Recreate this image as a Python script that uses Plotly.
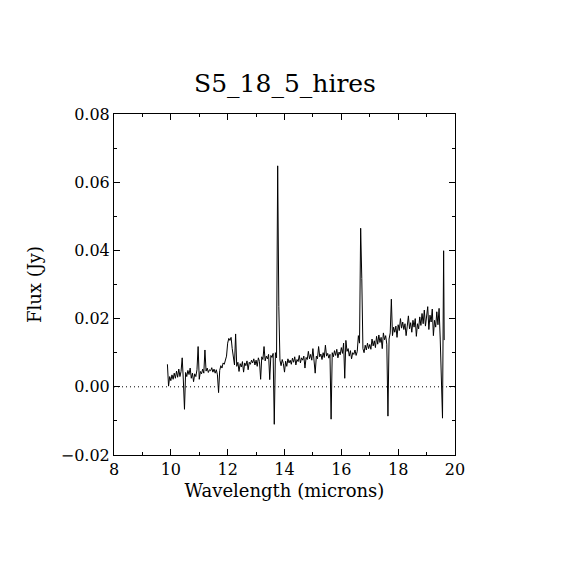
import plotly.graph_objects as go

# wavelength grid (microns) and flux (Jy)
wave_a = [9.88, 9.92, 9.96, 10.00, 10.04, 10.08, 10.12, 10.16, 10.20, 10.24,
          10.28, 10.32, 10.36, 10.40, 10.44, 10.48, 10.52, 10.56, 10.60, 10.64,
          10.68, 10.72, 10.76, 10.80, 10.84]
flux_a = [0.0066, 0.0002, 0.0030, 0.0018, 0.0035, 0.0022, 0.0040, 0.0025, 0.0046, 0.0028,
          0.0052, 0.0030, 0.0045, 0.0085, 0.0020, -0.0066, 0.0042, 0.0030, 0.0048, 0.0036,
          0.0055, 0.0025, 0.0040, 0.0015, 0.0038]

wave_b = [10.88, 10.92, 10.96, 11.00, 11.04, 11.08, 11.12, 11.16, 11.20, 11.24,
          11.28, 11.32, 11.36, 11.40, 11.44, 11.48, 11.52, 11.56, 11.60, 11.64,
          11.68, 11.72, 11.76, 11.80, 11.84]
flux_b = [0.0030, 0.0050, 0.0118, 0.0022, 0.0045, 0.0038, 0.0052, 0.0040, 0.0108, 0.0046,
          0.0055, 0.0042, 0.0050, 0.0047, 0.0056, 0.0043, 0.0052, 0.0040, 0.0050, 0.0035,
          -0.0017, 0.0048, 0.0062, 0.0055, 0.0070]

wave_c = [11.88, 11.92, 11.96, 12.00, 12.04, 12.08, 12.12, 12.16, 12.20, 12.24,
          12.28, 12.32, 12.36, 12.40, 12.44, 12.48, 12.52, 12.56, 12.60, 12.64,
          12.68, 12.72, 12.76, 12.80, 12.84]
flux_c = [0.0066, 0.0078, 0.0090, 0.0128, 0.0142, 0.0136, 0.0145, 0.0112, 0.0085, 0.0064,
          0.0155, 0.0060, 0.0072, 0.0045, 0.0068, 0.0058, 0.0074, 0.0043, 0.0070, 0.0062,
          0.0076, 0.0050, 0.0072, 0.0066, 0.0078]

wave_d = [12.88, 12.92, 12.96, 13.00, 13.04, 13.08, 13.12, 13.16, 13.20, 13.24,
          13.28, 13.32, 13.36, 13.40, 13.44, 13.48, 13.52, 13.56, 13.60, 13.64,
          13.68, 13.72, 13.76, 13.80, 13.84]
flux_d = [0.0070, 0.0082, 0.0064, 0.0078, 0.0060, 0.0085, 0.0074, 0.0022, 0.0088, 0.0080,
          0.0118, 0.0076, 0.0090, 0.0082, 0.0095, 0.0021, 0.0092, 0.0086, 0.0098, -0.0110,
          0.0100, 0.0085, 0.0648, 0.0235, 0.0078]

wave_e = [13.88, 13.92, 13.96, 14.00, 14.04, 14.08, 14.12, 14.16, 14.20, 14.24,
          14.28, 14.32, 14.36, 14.40, 14.44, 14.48, 14.52, 14.56, 14.60, 14.64,
          14.68, 14.72, 14.76, 14.80, 14.84]
flux_e = [0.0062, 0.0080, 0.0068, 0.0043, 0.0075, 0.0060, 0.0082, 0.0070, 0.0078, 0.0066,
          0.0084, 0.0072, 0.0088, 0.0064, 0.0080, 0.0074, 0.0092, 0.0070, 0.0085, 0.0078,
          0.0090, 0.0055, 0.0086, 0.0080, 0.0104]

wave_f = [14.88, 14.92, 14.96, 15.00, 15.04, 15.08, 15.12, 15.16, 15.20, 15.24,
          15.28, 15.32, 15.36, 15.40, 15.44, 15.48, 15.52, 15.56, 15.60, 15.64,
          15.68, 15.72, 15.76, 15.80, 15.84]
flux_f = [0.0082, 0.0095, 0.0078, 0.0112, 0.0085, 0.0040, 0.0090, 0.0082, 0.0118, 0.0088,
          0.0096, 0.0080, 0.0100, 0.0086, 0.0122, 0.0090, 0.0098, 0.0084, 0.0095, -0.0095,
          0.0100, 0.0088, 0.0106, 0.0092, 0.0110]

wave_g = [15.88, 15.92, 15.96, 16.00, 16.04, 16.08, 16.12, 16.16, 16.20, 16.24,
          16.28, 16.32, 16.36, 16.40, 16.44, 16.48, 16.52, 16.56, 16.60, 16.64,
          16.68, 16.72, 16.76, 16.80, 16.84]
flux_g = [0.0085, 0.0102, 0.0094, 0.0115, 0.0098, 0.0128, 0.0025, 0.0136, 0.0104, 0.0112,
          0.0090, 0.0106, 0.0082, 0.0100, 0.0095, 0.0108, 0.0092, 0.0104, 0.0150, 0.0128,
          0.0465, 0.0318, 0.0112, 0.0100, 0.0122]

wave_h = [16.88, 16.92, 16.96, 17.00, 17.04, 17.08, 17.12, 17.16, 17.20, 17.24,
          17.28, 17.32, 17.36, 17.40, 17.44, 17.48, 17.52, 17.56, 17.60, 17.64,
          17.68, 17.72, 17.76, 17.80, 17.84]
flux_h = [0.0108, 0.0128, 0.0112, 0.0124, 0.0110, 0.0140, 0.0120, 0.0135, 0.0115, 0.0148,
          0.0125, 0.0152, 0.0130, 0.0145, 0.0112, 0.0158, 0.0138, 0.0150, 0.0125, -0.0086,
          0.0140, 0.0158, 0.0257, 0.0150, 0.0175]

wave_i = [17.88, 17.92, 17.96, 18.00, 18.04, 18.08, 18.12, 18.16, 18.20, 18.24,
          18.28, 18.32, 18.36, 18.40, 18.44, 18.48, 18.52, 18.56, 18.60, 18.64,
          18.68, 18.72, 18.76, 18.80, 18.84]
flux_i = [0.0160, 0.0178, 0.0145, 0.0182, 0.0165, 0.0200, 0.0172, 0.0190, 0.0168, 0.0185,
          0.0150, 0.0178, 0.0208, 0.0170, 0.0188, 0.0160, 0.0195, 0.0175, 0.0200, 0.0148,
          0.0185, 0.0170, 0.0205, 0.0180, 0.0215]

wave_j = [18.88, 18.92, 18.96, 19.00, 19.04, 19.08, 19.12, 19.16, 19.20, 19.24,
          19.28, 19.32, 19.36, 19.40, 19.44, 19.48, 19.52, 19.56, 19.60, 19.62]
flux_j = [0.0185, 0.0225, 0.0178, 0.0200, 0.0235, 0.0168, 0.0210, 0.0190, 0.0228, 0.0150,
          0.0195, 0.0175, 0.0220, 0.0182, 0.0230, 0.0140, 0.0010, -0.0092, 0.0399, 0.0137]

x_ticks = [8, 10, 12, 14, 16, 18, 20]
y_ticks = [-0.02, 0.00, 0.02, 0.04, 0.06, 0.08]

wave = wave_a + wave_b + wave_c + wave_d + wave_e + wave_f + wave_g + wave_h + wave_i + wave_j
flux = flux_a + flux_b + flux_c + flux_d + flux_e + flux_f + flux_g + flux_h + flux_i + flux_j

font = "DejaVu Serif"

fig = go.Figure()
fig.add_trace(go.Scatter(x=wave, y=flux, mode='lines',
                         line=dict(color='black', width=1),
                         showlegend=False))

# dotted zero level
fig.add_hline(y=0, line=dict(color='black', width=1, dash='1px,3px'))

axis_common = dict(
    showgrid=False, zeroline=False,
    showline=True, linecolor='black', linewidth=1,
    mirror='allticks', ticks='inside', ticklen=6, tickwidth=1, tickcolor='black',
    tickfont=dict(family=font, size=16, color='black'),
)

fig.update_xaxes(range=[8, 20], tickvals=x_ticks, ticktext=[str(v) for v in x_ticks],
                 minor=dict(ticks='inside', ticklen=3, dtick=1, tickcolor='black'),
                 title=dict(text='Wavelength (microns)', standoff=6,
                            font=dict(family=font, size=18, color='black')),
                 **axis_common)
fig.update_yaxes(range=[-0.02, 0.08], tickvals=y_ticks, tickformat='.2f',
                 minor=dict(ticks='inside', ticklen=3, dtick=0.01, tickcolor='black'),
                 title=dict(text='Flux (Jy)', standoff=14,
                            font=dict(family=font, size=18, color='black')),
                 **axis_common)

# the page body adds ~8px offset, so margins are shifted to keep the frame at 114..455
fig.update_layout(
    width=570, height=570,
    autosize=False,
    margin=dict(l=106, r=123, t=106, b=123),
    paper_bgcolor='white', plot_bgcolor='white',
    title=dict(text='S5_18_5_hires', x=(285 - 8) / 570, xanchor='center',
               y=1 - 75 / 570, yref='container', yanchor='middle',
               font=dict(family=font, size=25, color='black')),
)

fig.write_html("out.html")
